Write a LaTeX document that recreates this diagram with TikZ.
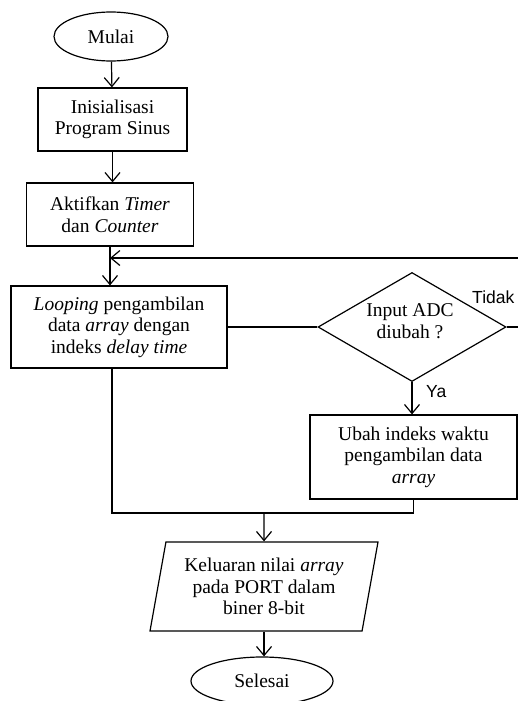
\documentclass[tikz,border=0pt]{standalone}
\usepackage{fontspec}
\setmainfont{Liberation Serif}
\newfontfamily\labfont{Liberation Sans}
\usetikzlibrary{shapes.geometric,arrows.meta}
\begin{document}
\begin{tikzpicture}[x=1pt,y=-1pt,
  every node/.style={font=\fontsize{19.5}{21.5}\selectfont, align=center, inner sep=0pt},
  line/.style={draw=black, line width=1.2pt},
  arr/.style={line, -{Straight Barb[length=9pt,width=15pt,line width=1.2pt]}},
  term/.style={ellipse, draw, line width=1.2pt},
  proc/.style={rectangle, draw, line width=1.2pt},
  dec/.style={diamond, draw, line width=1.2pt},
  io/.style={trapezium, draw, line width=1.2pt, trapezium left angle=74.3, trapezium right angle=105.7, trapezium stretches body},
  lab/.style={font=\labfont\fontsize{17.5}{19}\selectfont, anchor=base west}
]
\useasboundingbox (0,0) rectangle (518,701);
\node[term, minimum width=114pt, minimum height=49pt] (mulai) at (111,36.5) {Mulai};
\node[proc, minimum width=149pt, minimum height=63pt] (init) at (112.5,119.5) {Inisialisasi\\Program Sinus};
\node[proc, minimum width=167pt, minimum height=63pt] (aktif) at (110,214.5) {Aktifkan \textit{Timer}\\dan \textit{Counter}};
\node[proc, minimum width=216pt, minimum height=82pt] (loop) at (119,327) {\textit{Looping} pengambilan\\data \textit{array} dengan\\indeks \textit{delay time}};
\node[dec, minimum width=188pt, minimum height=109pt] (cek) at (412,327) {};
\node (cektext) at (410,321) {Input ADC\\diubah ?};
\node[proc, minimum width=207pt, minimum height=84pt] (ubah) at (413.5,457) {Ubah indeks waktu\\pengambilan data\\\textit{array}};
\node[io, minimum width=228pt, minimum height=89pt] (out) at (264,586.5) {Keluaran nilai \textit{array}\\pada PORT dalam\\biner 8-bit};
\node[term, minimum width=142pt, minimum height=48pt] (selesai) at (262,681) {Selesai};
\node[lab] (tidak) at (472,303) {Tidak};
\node[lab] (ya) at (426,397) {Ya};
\coordinate (fbr) at (522,258);
\coordinate (jl) at (112,513);
\coordinate (jm) at (264,513);
\draw[arr] (mulai) -- (init);
\draw[arr] (init) -- (init.south |- aktif.north);
\draw[arr] (aktif.south) -- (aktif.south |- loop.north);
\draw[arr] (fbr) -- (aktif.south |- fbr);
\draw[line] (loop.east) -- (cek.west);
\draw[line] (cek.east) -- (fbr |- cek.east) -- (fbr);
\draw[arr] (cek.south) -- (cek.south |- ubah.north);
\draw[line] (loop.south -| jl) -- (jl) -- (ubah.south |- jl) -- (ubah.south);
\draw[arr] (jm) -- (out.north);
\draw[arr] (out.south) -- (out.south |- selesai.north);
\end{tikzpicture}
\end{document}
